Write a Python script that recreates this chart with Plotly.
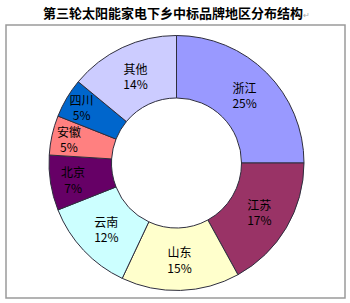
import plotly.graph_objects as go

regions = ["浙江", "江苏", "山东", "云南", "北京", "安徽", "四川", "其他"]
shares = [25, 17, 15, 12, 7, 5, 5, 14]
colors = ["#9999FF", "#993366", "#FFFFCC", "#CCFFFF", "#660066", "#FF8080", "#0066CC", "#CCCCFF"]
title_text = "第三轮太阳能家电下乡中标品牌地区分布结构"

W, H = 350, 303
cx, cy, r = 176.5, 163, 127.5

fig = go.Figure(go.Pie(
    labels=regions,
    values=shares,
    sort=False,
    direction="clockwise",
    rotation=0,
    hole=0.51,
    marker=dict(colors=colors, line=dict(color="#2e2e3e", width=1)),
    texttemplate="%{label}<br>%{value}%",
    textposition="inside",
    insidetextorientation="horizontal",
    textfont=dict(family="Noto Sans CJK SC", size=12, color="black"),
    hoverinfo="skip",
    showlegend=False,
    domain=dict(x=[(cx - r) / W, (cx + r) / W], y=[(H - cy - r) / H, (H - cy + r) / H]),
))

fig.add_shape(type="rect", xref="paper", yref="paper",
              x0=6 / W, x1=345 / W, y0=(H - 298) / H, y1=(H - 25) / H,
              line=dict(color="#9a9a9a", width=1.5), fillcolor="rgba(0,0,0,0)", layer="below")

fig.add_annotation(
    x=176 / W, y=(H - 12) / H, xref="paper", yref="paper",
    text="<b>" + title_text + "</b><span style='font-size:8px;color:#aaaaaa'>↵</span>",
    showarrow=False, xanchor="center", yanchor="middle",
    font=dict(family="Noto Sans CJK SC", size=13, color="black"),
)

fig.update_layout(
    width=W, height=H,
    margin=dict(l=0, r=0, t=0, b=0),
    paper_bgcolor="white", plot_bgcolor="white",
    uniformtext=dict(minsize=12, mode="show"),
)

fig.write_html("out.html", config={"displayModeBar": False})
